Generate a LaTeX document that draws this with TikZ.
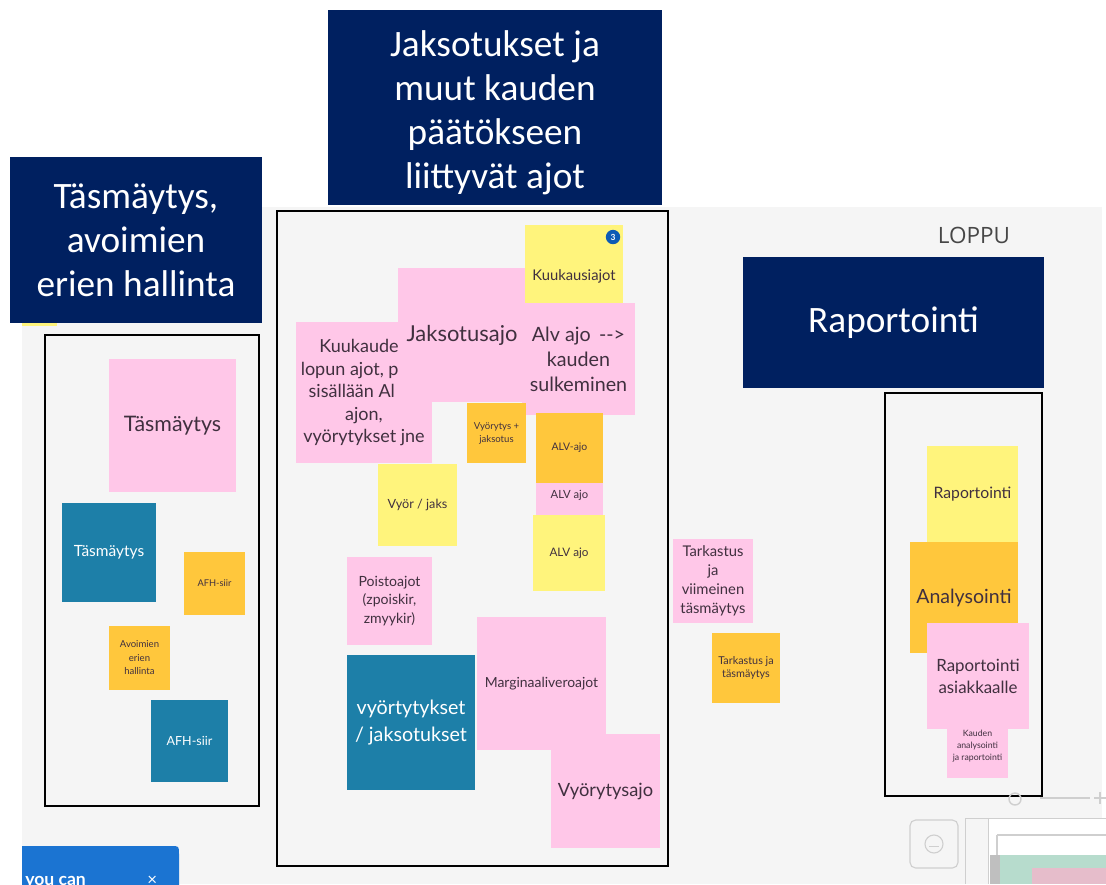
\documentclass[tikz,border=0pt]{standalone}
\usepackage{fontspec}
\setmainfont{Carlito}
\newfontfamily\notefont{Lato}
\newfontfamily\uifont{Open Sans}
\usetikzlibrary{fit}
\definecolor{navy}{HTML}{002060}
\definecolor{canvas}{HTML}{F5F5F5}
\definecolor{notepink}{HTML}{FFC7E8}
\definecolor{noteyellow}{HTML}{FFF47C}
\definecolor{noteorange}{HTML}{FFC73C}
\definecolor{noteteal}{HTML}{1D7FA8}
\definecolor{notetext}{HTML}{40303F}
\definecolor{toastblue}{HTML}{1B74D2}
\definecolor{badgeblue}{HTML}{0D5BB5}
\definecolor{uigrey}{HTML}{CFCFCF}
\definecolor{mapmint}{HTML}{B7DCCD}
\definecolor{mappink}{HTML}{E6BDCB}

\begin{document}
\begin{tikzpicture}[
  x=0.025cm, y=-0.025cm,
  header/.style={rectangle, fill=navy, inner sep=0pt},
  headtxt/.style={font=\fontsize{26.5}{31.3}\selectfont, text=white},
  frame/.style={rectangle, draw=black, line width=2pt, inner sep=0pt},
  note/.style={rectangle, inner sep=0pt},
  pinknote/.style={note, fill=notepink},
  yellownote/.style={note, fill=noteyellow},
  orangenote/.style={note, fill=noteorange},
  tealnote/.style={note, fill=noteteal},
  txt/.style 2 args={font=\notefont\fontsize{#1}{#2}\selectfont, text=notetext},
  wtxt/.style 2 args={txt={#1}{#2}, text=white}
]
  \useasboundingbox (0,0) rectangle (1106,884);
  \clip (0,0) rectangle (1106,884);
  \fill[white] (0,0) rectangle (1106,884);
  \fill[canvas] (22,207) rectangle (1102,884);

  % section headers
  \node[yellownote, fit={(22,300) (57,326)}] (hidden) {};
  \node[header, fit={(10,157) (262,323)},
        label={[headtxt, align=center]center:{Täsmäytys,\\ avoimien\\ erien hallinta}}] (hdrtas) {};
  \node[header, fit={(328,10) (662,205)},
        label={[headtxt, align=center, yshift=-3.5pt]center:{Jaksotukset ja\\ muut kauden\\ päätökseen\\ liittyvät ajot}}] (hdrjak) {};

  % frames
  \node[frame, fit={(45,335) (259,806)}] (frmtas) {};
  \node[frame, fit={(277,211) (668,866)}] (frmjak) {};
  \node[frame, fit={(885,393) (1042,796)}] (frmrap) {};

  % left frame
  \node[pinknote, fit={(109,359) (236,492)}, label={[txt={15.2}{18}]center:Täsmäytys}] (taspink) {};
  \node[tealnote, fit={(62,503) (156,602)}, label={[wtxt={11}{13}]center:Täsmäytys}] (tasteal) {};
  \node[orangenote, fit={(184,552) (245,615)}, label={[txt={6.6}{8}]center:AFH-siir}] (afhorange) {};
  \node[orangenote, fit={(109,626) (170,690)},
        label={[txt={6.8}{9.6}, align=center]center:{Avoimien\\ erien\\ hallinta}}] (avoimien) {};
  \node[tealnote, fit={(151,700) (228,782)}, label={[wtxt={8.9}{10}]center:AFH-siir}] (afhteal) {};

  % middle frame
  \node[pinknote, fit={(296,322) (432,463)},
        label={[txt={12.8}{16}, align=center]center:{Kuukaude\phantom{n}\\ lopun ajot, p\phantom{itää}\\ sisällään Al\phantom{VV}\\ ajon,\\ vyörytykset jne}}] (kuukauden) {};
  \node[yellownote, fit={(378,464) (457,546)}, label={[txt={9}{11}]center:Vyör / jaks}] (vyorjaks) {};
  \node[pinknote, fit={(398,268) (526,402)}, label={[txt={15.6}{18}]center:Jaksotusajo}] (jaksotusajo) {};
  \node[yellownote, fit={(525,225) (623,327)}, label={[txt={10.5}{12}]center:Kuukausiajot}] (kuukausiajot) {};
  \node[circle, fill=badgeblue, text=white, inner sep=0pt, minimum size=0.36cm,
        font=\notefont\bfseries\fontsize{6}{6}\selectfont] (badge) at (613,237) {3};
  \node[pinknote, fit={(522,303) (635,415)},
        label={[txt={14}{17.8}, align=center]center:{Alv ajo \,-->\\ kauden\\ sulkeminen}}] (alvsulk) {};
  \node[orangenote, fit={(467,403) (526,463)},
        label={[txt={6.8}{9.2}, align=center]center:{Vyörytys +\\ jaksotus}}] (vyorjakso) {};
  \node[pinknote, fit={(536,455) (603,535)}, label={[txt={8}{9}]center:ALV ajo}] (alvpink) {};
  \node[orangenote, fit={(536,413) (603,483)}, label={[txt={7.4}{9}]center:ALV-ajo}] (alvorange) {};
  \node[yellownote, fit={(533,515) (605,591)}, label={[txt={8.3}{9}]center:ALV ajo}] (alvyellow) {};
  \node[pinknote, fit={(347,557) (432,645)},
        label={[txt={10}{13}, align=center]center:{Poistoajot\\ (zpoiskir,\\ zmyykir)}}] (poistoajot) {};
  \node[tealnote, fit={(347,655) (475,790)},
        label={[wtxt={14}{19}, align=center]center:{vyörtytykset\\ / jaksotukset}}] (vyortyt) {};
  \node[pinknote, fit={(477,617) (606,750)}, label={[txt={9.9}{11}]center:Marginaaliveroajot}] (marginaali) {};
  \node[pinknote, fit={(551,734) (660,848)}, label={[txt={13}{16}]center:Vyörytysajo}] (vyorytysajo) {};

  % between frames
  \node[pinknote, fit={(673,539) (753,623)},
        label={[txt={10.5}{13.5}, align=center]center:{Tarkastus\\ ja\\ viimeinen\\ täsmäytys}}] (tarkviim) {};
  \node[orangenote, fit={(712,633) (780,703)},
        label={[txt={7.7}{9.5}, align=center]center:{Tarkastus ja\\ täsmäytys}}] (tarktas) {};

  % right frame
  \node[header, fit={(743,257) (1044,388)}, label={[headtxt]center:Raportointi}] (hdrrap) {};
  \node[font=\uifont\fontsize{16}{18}\selectfont, text=black!72] (loppu) at (974,235) {LOPPU};
  \node[yellownote, fit={(927,446) (1018,542)}, label={[txt={11.2}{13}]center:Raportointi}] (rapyellow) {};
  \node[orangenote, fit={(910,542) (1018,653)}, label={[txt={13.9}{16}]center:Analysointi}] (analysointi) {};
  \node[pinknote, fit={(947,714) (1008,778)},
        label={[txt={6.2}{8.5}, align=center]center:{Kauden\\ analysointi\\ ja raportointi}}] (kauden) {};
  \node[pinknote, fit={(927,623) (1029,729)},
        label={[txt={12}{15.5}, align=center]center:{Raportointi\\ asiakkaalle}}] (rapasiak) {};

  % board controls
  \draw[uigrey, line width=0.8pt] (1040,798) -- (1090,798);
  \draw[uigrey, line width=1pt] (1015,799) circle (6);
  \draw[uigrey, line width=1pt] (1094,798) -- (1106,798) (1100,792) -- (1100,804);
  \node[rectangle, draw=uigrey, line width=0.8pt, rounded corners=4pt, fill=canvas,
        minimum size=1.2cm] (helpbox) at (934,844) {};
  \draw[uigrey, line width=0.8pt] (helpbox.center) circle (9);
  \draw[uigrey, line width=0.6pt] (929,846) -- (939,846);
  \fill[white!96!black] (965,818) rectangle (988,884);
  \fill[white] (988,818) rectangle (1106,884);
  \draw[uigrey, line width=0.6pt] (965,818) -- (1106,818) (965,818) -- (965,884) (988,818) -- (988,884);
  \draw[uigrey, line width=0.8pt] (997,835) -- (1106,835) (997,835) -- (997,884);
  \fill[mapmint] (990,855) rectangle (1106,884);
  \fill[mappink] (1032,868) rectangle (1106,884);
  \fill[black!25] (990,855) rectangle (1000,884);

  % toast
  \fill[toastblue] (22,894) -- (22,846) -- (171,846) .. controls (179,846) .. (179,854) -- (179,894) -- cycle;
  \node[anchor=base west, text=white, inner sep=0pt,
        font=\notefont\bfseries\fontsize{12.5}{14}\selectfont] (toasttext) at (25,885) {you can};
  \node[anchor=base west, text=white, inner sep=0pt,
        font=\notefont\fontsize{12}{14}\selectfont] (toastclose) at (147,885) {×};
\end{tikzpicture}
\end{document}
